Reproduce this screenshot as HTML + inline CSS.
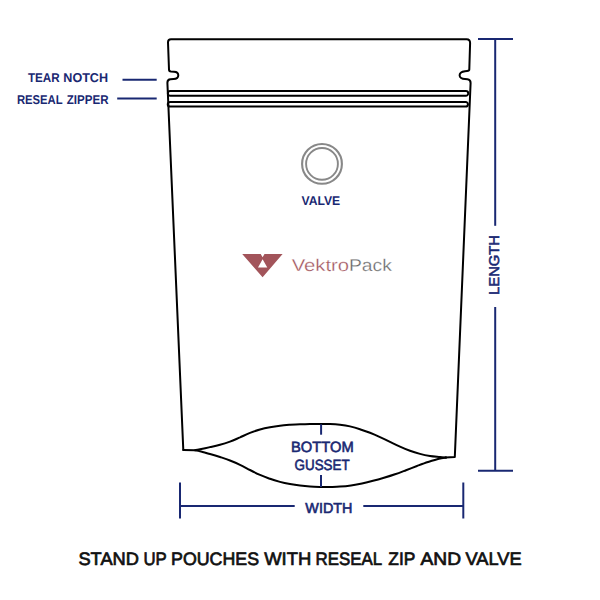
<!DOCTYPE html>
<html>
<head>
<meta charset="utf-8">
<style>
html,body{margin:0;padding:0;background:#fff;width:600px;height:600px;overflow:hidden}
svg{display:block}
text{font-family:"Liberation Sans",sans-serif}
</style>
</head>
<body>
<svg width="600" height="600" viewBox="0 0 600 600">
<rect width="600" height="600" fill="#fff"/>
<!-- pouch outline -->
<g fill="none" stroke="#000" stroke-width="2" stroke-linejoin="round" stroke-linecap="round">
<path d="M183.3,450 L167.4,83 C167.3,80.5 168.3,79.3 170.5,79.2 L173.5,79.1 C176.3,79 178.3,77.5 178.3,75.3 C178.3,73.2 176.5,71.8 174,71.7 L171,71.6 C169.6,71.5 169,70.8 169,69.5 L168,42.3 C168,40.3 169,39.3 171,39.3 L466.6,39.3 C469,39.3 470.1,40.6 470.1,43 L469.3,69.6 C469.3,70.6 468.6,71 467,71.1 L465,71.2 C461.8,71.6 459.6,73.2 459.6,75.3 C459.6,77.4 461.8,79 465,79 L467.5,79.2 C469.6,79.4 470.6,80.6 470.6,83 L454.8,457 L445.5,457.6"/>
<!-- zipper pills -->
<path d="M170.3,90.9 L465.8,90.9 A2.45,2.45 0 0 1 465.8,95.8 L170.3,95.8 A2.45,2.45 0 0 1 170.3,90.9 Z"/>
<path d="M170.1,101.9 L465.6,101.9 A2.35,2.35 0 0 1 465.6,106.6 L170.1,106.6 A2.35,2.35 0 0 1 170.1,101.9 Z"/>
<!-- gusset -->
<path d="M183.3,450 L195,450.3 C195.8,450.1 197.5,449.8 200,449.3 C202.5,448.8 206.7,447.9 210,447.1 C213.3,446.4 216.7,445.7 220,444.8 C223.3,443.9 226.7,442.8 230,441.6 C233.3,440.4 236.7,438.8 240,437.4 C243.3,435.9 246.7,434.2 250,432.9 C253.3,431.6 256.7,430.4 260,429.5 C263.3,428.6 266.7,427.9 270,427.3 C273.3,426.7 276.7,426.2 280,425.8 C283.3,425.4 286.7,425.1 290,424.8 C293.3,424.6 296.7,424.4 300,424.3 C303.3,424.2 306.7,424.1 310,424.0 C313.3,423.9 316.7,423.9 320,423.9 C323.3,423.9 326.7,423.9 330,424.0 C333.3,424.1 336.7,424.3 340,424.7 C343.3,425.1 346.7,425.6 350,426.4 C353.3,427.2 356.7,428.2 360,429.3 C363.3,430.4 366.7,431.5 370,432.8 C373.3,434.1 376.7,435.6 380,437.1 C383.3,438.6 386.7,440.2 390,441.8 C393.3,443.4 396.7,445.1 400,446.6 C403.3,448.1 406.7,449.6 410,450.8 C413.3,452.0 416.7,453.0 420,453.9 C423.3,454.8 426.7,455.5 430,456.0 C433.3,456.5 437.3,456.8 440,457.1 C442.7,457.4 445.0,457.5 446,457.6"/>
<path d="M195,450.3 C195.8,450.5 197.5,450.7 200,451.3 C202.5,451.9 206.7,453.1 210,454 C213.3,454.9 216.7,455.9 220,457 C223.3,458.1 226.7,459.2 230,460.5 C233.3,461.8 236.7,463.2 240,464.8 C243.3,466.4 246.7,468.3 250,470 C253.3,471.7 256.7,473.4 260,474.9 C263.3,476.4 266.7,477.6 270,478.8 C273.3,480.0 276.7,481.0 280,481.9 C283.3,482.8 286.7,483.5 290,484.1 C293.3,484.7 296.7,485.2 300,485.6 C303.3,486.0 306.7,486.3 310,486.5 C313.3,486.7 316.7,486.8 320,486.9 C323.3,487.0 326.7,487.1 330,487.0 C333.3,486.9 336.5,486.9 340,486.6 C343.5,486.3 347.3,485.9 351,485.4 C354.7,484.9 358.3,484.3 362,483.5 C365.7,482.7 369.3,481.8 373,480.8 C376.7,479.9 380.3,478.9 384,477.8 C387.7,476.7 391.3,475.6 395,474.3 C398.7,473.0 402.3,471.6 406,470.2 C409.7,468.8 413.3,467.4 417,466.0 C420.7,464.6 424.3,463.2 428,462.0 C431.7,460.8 436.0,459.4 439,458.7 C442.0,458.0 444.8,457.8 446,457.6"/>
</g>
<!-- valve -->
<g fill="none" stroke="#888">
<circle cx="322" cy="163.9" r="19.9" stroke-width="2.1"/>
<circle cx="322" cy="163.9" r="15.9" stroke-width="1.9"/>
</g>
<!-- logo -->
<g fill="#a2545a">
<path d="M242.2,254 L260.7,254 L262.6,257.2 L264.5,254 L282.6,254 L262.6,277.3 Z M262.6,259.3 L258,267.6 L267.3,267.6 Z" fill-rule="evenodd"/>
</g>
<g font-size="17" text-rendering="geometricPrecision" stroke="#fff" stroke-width="0.3">
<text id="t_vektro" x="291.66" y="271.4" fill="#9f525a" textLength="57.51" lengthAdjust="spacingAndGlyphs">Vektro</text>
<text id="t_pack" x="348.93" y="271.4" fill="#666666" textLength="42.97" lengthAdjust="spacingAndGlyphs">Pack</text>
</g>
<!-- blue annotation -->
<g fill="#192872" stroke="#192872" stroke-width="0" font-weight="bold" text-rendering="geometricPrecision">
<text id="t_tear" x="27.94" y="82" font-size="12.8" textLength="31.77" lengthAdjust="spacingAndGlyphs">TEAR</text>
<text id="t_notch" x="63.30" y="82" font-size="12.8" textLength="44.76" lengthAdjust="spacingAndGlyphs">NOTCH</text>
<text id="t_reseal" x="16.94" y="104" font-size="12.8" textLength="45.67" lengthAdjust="spacingAndGlyphs">RESEAL</text>
<text id="t_zipper" x="66.78" y="104" font-size="12.8" textLength="41.74" lengthAdjust="spacingAndGlyphs">ZIPPER</text>
<text id="t_valve" x="301.45" y="205" stroke-width="0" font-weight="bold" font-size="12.6" textLength="38.73" lengthAdjust="spacingAndGlyphs">VALVE</text>
<text id="t_bottom" x="291.04" stroke-width="0.6" font-weight="normal" y="452" font-size="14.8" textLength="62.67" lengthAdjust="spacingAndGlyphs">BOTTOM</text>
<text id="t_gusset" x="294.61" stroke-width="0.6" font-weight="normal" y="470" font-size="14.8" textLength="55.04" lengthAdjust="spacingAndGlyphs">GUSSET</text>
<text id="t_width" x="305.37" stroke-width="0.6" font-weight="normal" y="513" font-size="14.5" textLength="47.01" lengthAdjust="spacingAndGlyphs">WIDTH</text>
<text id="t_length" transform="translate(499.2,294.9) rotate(-90)" x="0" y="0" stroke-width="0.6" font-weight="normal" font-size="14.2" textLength="59.9" lengthAdjust="spacingAndGlyphs">LENGTH</text>
</g>
<g stroke="#192872" stroke-width="2" fill="none">
<line x1="122.5" y1="79.7" x2="156.7" y2="79.7"/>
<line x1="117.2" y1="98.6" x2="156.7" y2="98.6"/>
<!-- length -->
<line x1="478" y1="39" x2="513" y2="39"/>
<line x1="478" y1="470.7" x2="513" y2="470.7"/>
<line x1="495.2" y1="39" x2="495.2" y2="225.8"/>
<line x1="495.2" y1="307" x2="495.2" y2="470.7"/>
<!-- width -->
<line x1="180" y1="482.5" x2="180" y2="518.5"/>
<line x1="463.3" y1="482.5" x2="463.3" y2="518.5"/>
<line x1="180" y1="506" x2="294.7" y2="506"/>
<line x1="363.3" y1="506" x2="463.3" y2="506"/>
<!-- gusset ticks -->
<line x1="321.1" y1="424.3" x2="321.1" y2="434.7"/>
<line x1="321" y1="475" x2="321" y2="487"/>
</g>
<g fill="#111" stroke="#111" stroke-width="0.7" font-size="18" text-rendering="geometricPrecision">
<text id="w1" x="78.45" y="565.4" textLength="60.50" lengthAdjust="spacingAndGlyphs">STAND</text>
<text id="w2" x="143.44" y="565.4" textLength="23.29" lengthAdjust="spacingAndGlyphs">UP</text>
<text id="w3" x="171.06" y="565.4" textLength="87.97" lengthAdjust="spacingAndGlyphs">POUCHES</text>
<text id="w4" x="264.18" y="565.4" textLength="47.08" lengthAdjust="spacingAndGlyphs">WITH</text>
<text id="w5" x="315.60" y="565.4" textLength="66.64" lengthAdjust="spacingAndGlyphs">RESEAL</text>
<text id="w6" x="388.32" y="565.4" textLength="27.02" lengthAdjust="spacingAndGlyphs">ZIP</text>
<text id="w7" x="420.56" y="565.4" textLength="40.55" lengthAdjust="spacingAndGlyphs">AND</text>
<text id="w8" x="465.47" y="565.4" textLength="56.08" lengthAdjust="spacingAndGlyphs">VALVE</text>
</g>
</svg>
</body>
</html>
